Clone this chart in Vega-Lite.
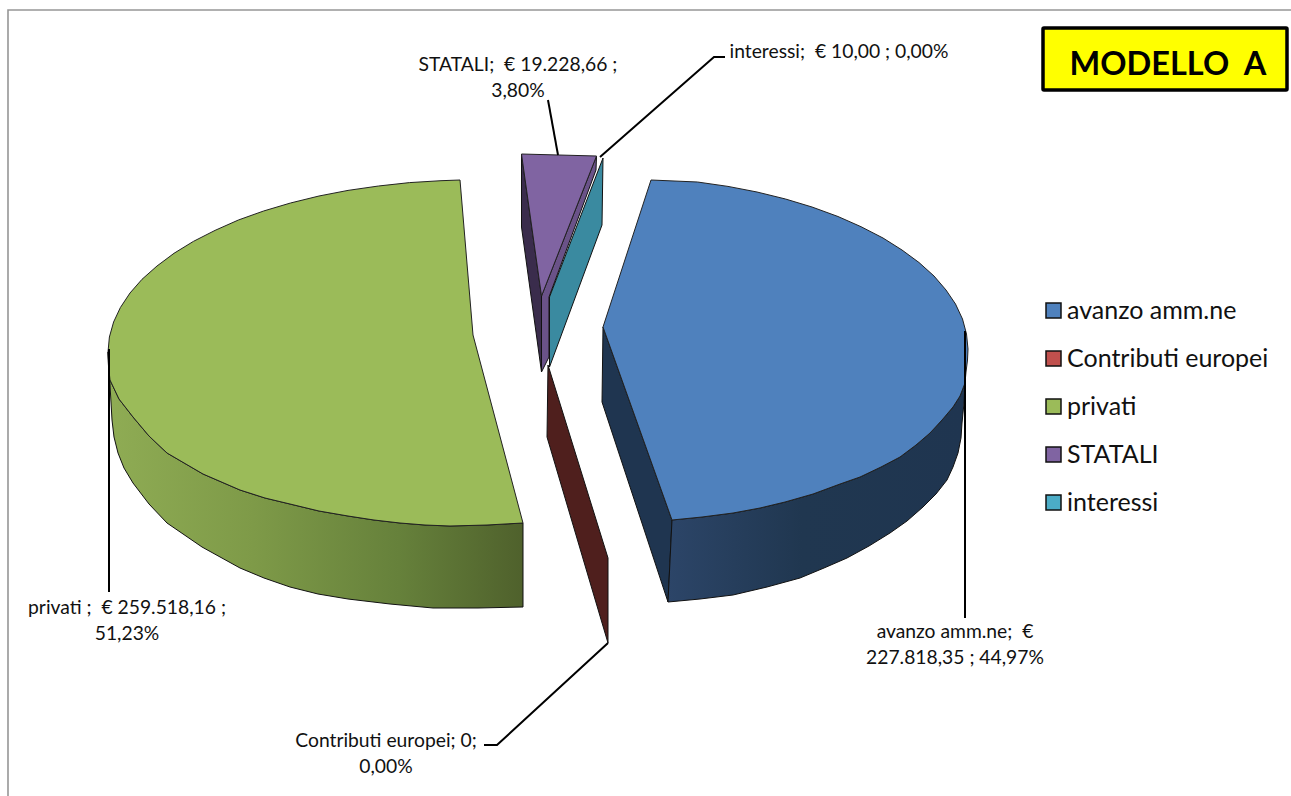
{
"$schema":"https://vega.github.io/schema/vega-lite/v6.json",
"width":1291,"height":796,"padding":0,
"autosize":{"type":"fit","contains":"padding"},
"background":"white",
"view":{"stroke":null},
"datasets":{
"shapes":[
{"part":"blueCut","i":0,"x":603,"y":327},{"part":"blueCut","i":1,"x":672,"y":520},{"part":"blueCut","i":2,"x":668,"y":602},{"part":"blueCut","i":3,"x":602,"y":402},{"part":"blueCut","i":4,"x":603,"y":327},
{"part":"blueWall","i":0,"x":965,"y":383},{"part":"blueWall","i":1,"x":960,"y":396},{"part":"blueWall","i":2,"x":953,"y":407},{"part":"blueWall","i":3,"x":942,"y":420},{"part":"blueWall","i":4,"x":930,"y":433},{"part":"blueWall","i":5,"x":916,"y":445},{"part":"blueWall","i":6,"x":900,"y":457},{"part":"blueWall","i":7,"x":881,"y":467},{"part":"blueWall","i":8,"x":860,"y":477},{"part":"blueWall","i":9,"x":840,"y":484},{"part":"blueWall","i":10,"x":813,"y":494},{"part":"blueWall","i":11,"x":785,"y":502},{"part":"blueWall","i":12,"x":760,"y":508},{"part":"blueWall","i":13,"x":733,"y":513},{"part":"blueWall","i":14,"x":702,"y":517},{"part":"blueWall","i":15,"x":672,"y":520},{"part":"blueWall","i":16,"x":668,"y":602},{"part":"blueWall","i":17,"x":700,"y":599},{"part":"blueWall","i":18,"x":733,"y":595},{"part":"blueWall","i":19,"x":767,"y":587},{"part":"blueWall","i":20,"x":800,"y":578},{"part":"blueWall","i":21,"x":824,"y":568},{"part":"blueWall","i":22,"x":847,"y":558},{"part":"blueWall","i":23,"x":869,"y":546},{"part":"blueWall","i":24,"x":890,"y":533},{"part":"blueWall","i":25,"x":907,"y":521},{"part":"blueWall","i":26,"x":923,"y":507},{"part":"blueWall","i":27,"x":936,"y":494},{"part":"blueWall","i":28,"x":947,"y":480},{"part":"blueWall","i":29,"x":953,"y":467},{"part":"blueWall","i":30,"x":958,"y":453},{"part":"blueWall","i":31,"x":961,"y":438},{"part":"blueWall","i":32,"x":962,"y":423},{"part":"blueWall","i":33,"x":964,"y":403},{"part":"blueWall","i":34,"x":965,"y":383},
{"part":"redCut","i":0,"x":548,"y":365},{"part":"redCut","i":1,"x":608,"y":558},{"part":"redCut","i":2,"x":608,"y":643},{"part":"redCut","i":3,"x":547,"y":437},{"part":"redCut","i":4,"x":548,"y":365},
{"part":"greenWall","i":0,"x":108,"y":352},{"part":"greenWall","i":1,"x":108.5,"y":366},{"part":"greenWall","i":2,"x":110,"y":380},{"part":"greenWall","i":3,"x":119,"y":399},{"part":"greenWall","i":4,"x":133,"y":417},{"part":"greenWall","i":5,"x":149,"y":436},{"part":"greenWall","i":6,"x":167,"y":453},{"part":"greenWall","i":7,"x":203,"y":474},{"part":"greenWall","i":8,"x":240,"y":490},{"part":"greenWall","i":9,"x":265,"y":498},{"part":"greenWall","i":10,"x":290,"y":504},{"part":"greenWall","i":11,"x":319,"y":511},{"part":"greenWall","i":12,"x":348,"y":516},{"part":"greenWall","i":13,"x":374,"y":520},{"part":"greenWall","i":14,"x":400,"y":523},{"part":"greenWall","i":15,"x":425,"y":525},{"part":"greenWall","i":16,"x":450,"y":526},{"part":"greenWall","i":17,"x":487,"y":525},{"part":"greenWall","i":18,"x":523,"y":523},{"part":"greenWall","i":19,"x":523,"y":607},{"part":"greenWall","i":20,"x":478,"y":608},{"part":"greenWall","i":21,"x":433,"y":608},{"part":"greenWall","i":22,"x":390,"y":604},{"part":"greenWall","i":23,"x":348,"y":599},{"part":"greenWall","i":24,"x":318,"y":594},{"part":"greenWall","i":25,"x":290,"y":587},{"part":"greenWall","i":26,"x":264,"y":578},{"part":"greenWall","i":27,"x":240,"y":568},{"part":"greenWall","i":28,"x":202,"y":547},{"part":"greenWall","i":29,"x":167,"y":523},{"part":"greenWall","i":30,"x":149,"y":504},{"part":"greenWall","i":31,"x":133,"y":483},{"part":"greenWall","i":32,"x":124,"y":468},{"part":"greenWall","i":33,"x":118,"y":453},{"part":"greenWall","i":34,"x":114,"y":437},{"part":"greenWall","i":35,"x":112,"y":420},{"part":"greenWall","i":36,"x":110,"y":385},{"part":"greenWall","i":37,"x":108,"y":352},
{"part":"purpleLeft","i":0,"x":521.5,"y":154},{"part":"purpleLeft","i":1,"x":521.5,"y":227},{"part":"purpleLeft","i":2,"x":541.5,"y":372},{"part":"purpleLeft","i":3,"x":541.5,"y":296},{"part":"purpleLeft","i":4,"x":521.5,"y":154},
{"part":"purpleMid","i":0,"x":596.5,"y":156},{"part":"purpleMid","i":1,"x":541.5,"y":296},{"part":"purpleMid","i":2,"x":541.5,"y":372},{"part":"purpleMid","i":3,"x":549,"y":357},{"part":"purpleMid","i":4,"x":549,"y":297},{"part":"purpleMid","i":5,"x":596,"y":170},{"part":"purpleMid","i":6,"x":596.5,"y":156},
{"part":"tealCut","i":0,"x":603,"y":158},{"part":"tealCut","i":1,"x":549.5,"y":297},{"part":"tealCut","i":2,"x":549.5,"y":367},{"part":"tealCut","i":3,"x":602,"y":225},{"part":"tealCut","i":4,"x":603,"y":158}
],
"tops":[
{"slice":"avanzo amm.ne","i":0,"x":603,"y":327},{"slice":"avanzo amm.ne","i":1,"x":651,"y":180},{"slice":"avanzo amm.ne","i":2,"x":697.5,"y":182},{"slice":"avanzo amm.ne","i":3,"x":728,"y":186.4},{"slice":"avanzo amm.ne","i":4,"x":757,"y":192},{"slice":"avanzo amm.ne","i":5,"x":785.5,"y":199},{"slice":"avanzo amm.ne","i":6,"x":812,"y":207},{"slice":"avanzo amm.ne","i":7,"x":838,"y":216.5},{"slice":"avanzo amm.ne","i":8,"x":861,"y":226.7},{"slice":"avanzo amm.ne","i":9,"x":883,"y":238},{"slice":"avanzo amm.ne","i":10,"x":902,"y":250},{"slice":"avanzo amm.ne","i":11,"x":919,"y":262.5},{"slice":"avanzo amm.ne","i":12,"x":934,"y":276},{"slice":"avanzo amm.ne","i":13,"x":946,"y":290},{"slice":"avanzo amm.ne","i":14,"x":955.5,"y":304},{"slice":"avanzo amm.ne","i":15,"x":962.5,"y":319},{"slice":"avanzo amm.ne","i":16,"x":966.5,"y":334},{"slice":"avanzo amm.ne","i":17,"x":968,"y":349},{"slice":"avanzo amm.ne","i":18,"x":967.5,"y":360},{"slice":"avanzo amm.ne","i":19,"x":966,"y":372},{"slice":"avanzo amm.ne","i":20,"x":965,"y":383},{"slice":"avanzo amm.ne","i":21,"x":960,"y":396},{"slice":"avanzo amm.ne","i":22,"x":953,"y":407},{"slice":"avanzo amm.ne","i":23,"x":942,"y":420},{"slice":"avanzo amm.ne","i":24,"x":930,"y":433},{"slice":"avanzo amm.ne","i":25,"x":916,"y":445},{"slice":"avanzo amm.ne","i":26,"x":900,"y":457},{"slice":"avanzo amm.ne","i":27,"x":881,"y":467},{"slice":"avanzo amm.ne","i":28,"x":860,"y":477},{"slice":"avanzo amm.ne","i":29,"x":840,"y":484},{"slice":"avanzo amm.ne","i":30,"x":813,"y":494},{"slice":"avanzo amm.ne","i":31,"x":785,"y":502},{"slice":"avanzo amm.ne","i":32,"x":760,"y":508},{"slice":"avanzo amm.ne","i":33,"x":733,"y":513},{"slice":"avanzo amm.ne","i":34,"x":702,"y":517},{"slice":"avanzo amm.ne","i":35,"x":672,"y":520},{"slice":"avanzo amm.ne","i":36,"x":603,"y":327},
{"slice":"privati","i":0,"x":473,"y":335},{"slice":"privati","i":1,"x":460,"y":180},{"slice":"privati","i":2,"x":441,"y":180.7},{"slice":"privati","i":3,"x":409.6,"y":182.6},{"slice":"privati","i":4,"x":378.5,"y":186},{"slice":"privati","i":5,"x":348,"y":190.4},{"slice":"privati","i":6,"x":319,"y":196},{"slice":"privati","i":7,"x":290.5,"y":203},{"slice":"privati","i":8,"x":263.6,"y":211},{"slice":"privati","i":9,"x":238.4,"y":220},{"slice":"privati","i":10,"x":215,"y":230.4},{"slice":"privati","i":11,"x":193.4,"y":241.4},{"slice":"privati","i":12,"x":174,"y":253.3},{"slice":"privati","i":13,"x":157,"y":266},{"slice":"privati","i":14,"x":142,"y":279.3},{"slice":"privati","i":15,"x":130,"y":293},{"slice":"privati","i":16,"x":120.4,"y":307.5},{"slice":"privati","i":17,"x":113.6,"y":322},{"slice":"privati","i":18,"x":109.4,"y":337},{"slice":"privati","i":19,"x":108,"y":352},{"slice":"privati","i":20,"x":108.5,"y":366},{"slice":"privati","i":21,"x":110,"y":380},{"slice":"privati","i":22,"x":119,"y":399},{"slice":"privati","i":23,"x":133,"y":417},{"slice":"privati","i":24,"x":149,"y":436},{"slice":"privati","i":25,"x":167,"y":453},{"slice":"privati","i":26,"x":203,"y":474},{"slice":"privati","i":27,"x":240,"y":490},{"slice":"privati","i":28,"x":265,"y":498},{"slice":"privati","i":29,"x":290,"y":504},{"slice":"privati","i":30,"x":319,"y":511},{"slice":"privati","i":31,"x":348,"y":516},{"slice":"privati","i":32,"x":374,"y":520},{"slice":"privati","i":33,"x":400,"y":523},{"slice":"privati","i":34,"x":425,"y":525},{"slice":"privati","i":35,"x":450,"y":526},{"slice":"privati","i":36,"x":487,"y":525},{"slice":"privati","i":37,"x":523,"y":523},{"slice":"privati","i":38,"x":473,"y":335},
{"slice":"STATALI","i":0,"x":521.5,"y":154},{"slice":"STATALI","i":1,"x":596.5,"y":156},{"slice":"STATALI","i":2,"x":541.5,"y":296},{"slice":"STATALI","i":3,"x":521.5,"y":154}
],
"leaders":[
{"line":"avanzo","i":0,"x":965,"y":331},{"line":"avanzo","i":1,"x":965,"y":618},
{"line":"privati","i":0,"x":109,"y":349},{"line":"privati","i":1,"x":109,"y":592},
{"line":"europei","i":0,"x":608,"y":643},{"line":"europei","i":1,"x":497,"y":745},{"line":"europei","i":2,"x":484,"y":745},
{"line":"statali","i":0,"x":558,"y":155},{"line":"statali","i":1,"x":548,"y":100},
{"line":"interessi","i":0,"x":600,"y":157},{"line":"interessi","i":1,"x":714,"y":57},{"line":"interessi","i":2,"x":725,"y":57}
],
"frame":[{"i":0,"x":8,"y":796},{"i":1,"x":8,"y":10},{"i":2,"x":1291,"y":10}],
"slices":[
{"slice":"avanzo amm.ne","value":227818.35,"share":44.97,"label":"avanzo amm.ne;\u00a0 €\n227.818,35 ; 44,97%","x":955,"y":632},
{"slice":"Contributi europei","value":0,"share":0,"label":"Contributi europei; 0;\n0,00%","x":386,"y":741},
{"slice":"privati","value":259518.16,"share":51.23,"label":"privati ;\u00a0 € 259.518,16 ;\n51,23%","x":127,"y":608},
{"slice":"STATALI","value":19228.66,"share":3.8,"label":"STATALI;\u00a0 € 19.228,66 ;\n3,80%","x":518,"y":65},
{"slice":"interessi","value":10,"share":0,"label":"interessi;\u00a0 € 10,00 ; 0,00%","x":839,"y":52}
]
},
"encoding":{
"x":{"field":"x","type":"quantitative","axis":null,"scale":{"domain":[0,1291],"nice":false,"zero":false}},
"y":{"field":"y","type":"quantitative","axis":null,"scale":{"domain":[796,0],"nice":false,"zero":false}}
},
"layer":[
{"data":{"name":"frame"},"mark":{"type":"line","stroke":"#969696","strokeWidth":1.6,"clip":true},"encoding":{"order":{"field":"i"}}},
{"data":{"name":"shapes"},"transform":[{"filter":"datum.part=='redCut'"}],"mark":{"type":"line","fill":"#4f1f1d","stroke":"#111","strokeWidth":1},"encoding":{"order":{"field":"i"}}},
{"data":{"name":"shapes"},"transform":[{"filter":"datum.part=='blueCut'"}],"mark":{"type":"line","fill":"#1f3550","stroke":"#111","strokeWidth":1},"encoding":{"order":{"field":"i"}}},
{"data":{"name":"shapes"},"transform":[{"filter":"datum.part=='blueWall'"}],"mark":{"type":"line","stroke":"#111","strokeWidth":1,"fill":{"gradient":"linear","x1":0,"y1":0,"x2":1,"y2":0,"stops":[{"offset":0,"color":"#2c4568"},{"offset":0.45,"color":"#203750"},{"offset":1,"color":"#1f3550"}]}},"encoding":{"order":{"field":"i"}}},
{"data":{"name":"shapes"},"transform":[{"filter":"datum.part=='greenWall'"}],"mark":{"type":"line","stroke":"#111","strokeWidth":1,"fill":{"gradient":"linear","x1":0,"y1":0,"x2":1,"y2":0,"stops":[{"offset":0,"color":"#8fac54"},{"offset":0.35,"color":"#7e9a48"},{"offset":0.7,"color":"#66813b"},{"offset":1,"color":"#4f612c"}]}},"encoding":{"order":{"field":"i"}}},
{"data":{"name":"shapes"},"transform":[{"filter":"datum.part=='purpleLeft'"}],"mark":{"type":"line","fill":"#3a2c4c","stroke":"#111","strokeWidth":1},"encoding":{"order":{"field":"i"}}},
{"data":{"name":"shapes"},"transform":[{"filter":"datum.part=='purpleMid'"}],"mark":{"type":"line","fill":"#6a5288","stroke":"#111","strokeWidth":1},"encoding":{"order":{"field":"i"}}},
{"data":{"name":"shapes"},"transform":[{"filter":"datum.part=='tealCut'"}],"mark":{"type":"line","fill":"#3a8aa0","stroke":"#111","strokeWidth":1},"encoding":{"order":{"field":"i"}}},
{"data":{"name":"tops"},"mark":{"type":"line","stroke":"#222","strokeWidth":1},"encoding":{"order":{"field":"i"},"detail":{"field":"slice"},"fill":{"field":"slice","type":"nominal","scale":{"domain":["avanzo amm.ne","Contributi europei","privati","STATALI","interessi"],"range":["#4f81bd","#c0504d","#9bbb59","#8064a2","#4bacc6"]},"legend":{"orient":"none","legendX":1041,"legendY":298,"title":null,"symbolType":"square","symbolSize":225,"symbolStrokeColor":"#111","symbolStrokeWidth":1.5,"symbolOpacity":1,"labelFont":"Lato","labelFontSize":25,"labelColor":"#111","labelLimit":260,"labelOffset":1,"rowPadding":22,"values":["avanzo amm.ne","Contributi europei","privati","STATALI","interessi"]}}}},
{"data":{"name":"leaders"},"mark":{"type":"line","stroke":"#000","strokeWidth":2},"encoding":{"order":{"field":"i"},"detail":{"field":"line"}}},
{"data":{"values":[{"x":1043,"x2":1287,"y":28,"y2":90}]},"mark":{"type":"rect","fill":"#ffff00","stroke":"#000","strokeWidth":3.5,"cornerRadius":1},"encoding":{"x2":{"field":"x2"},"y2":{"field":"y2"}}},
{"data":{"values":[{"x":1168,"y":75,"title":"MODELLO\u00a0 A"}]},"mark":{"type":"text","font":"Lato","fontWeight":"bold","fontSize":32.5,"color":"#000","align":"center","baseline":"alphabetic"},"encoding":{"text":{"field":"title"}}},
{"data":{"name":"slices"},"mark":{"type":"text","font":"Lato","fontSize":19.3,"color":"#111","align":"center","baseline":"middle","lineBreak":"\n","lineHeight":26},"encoding":{"text":{"field":"label"}}}
]
}
